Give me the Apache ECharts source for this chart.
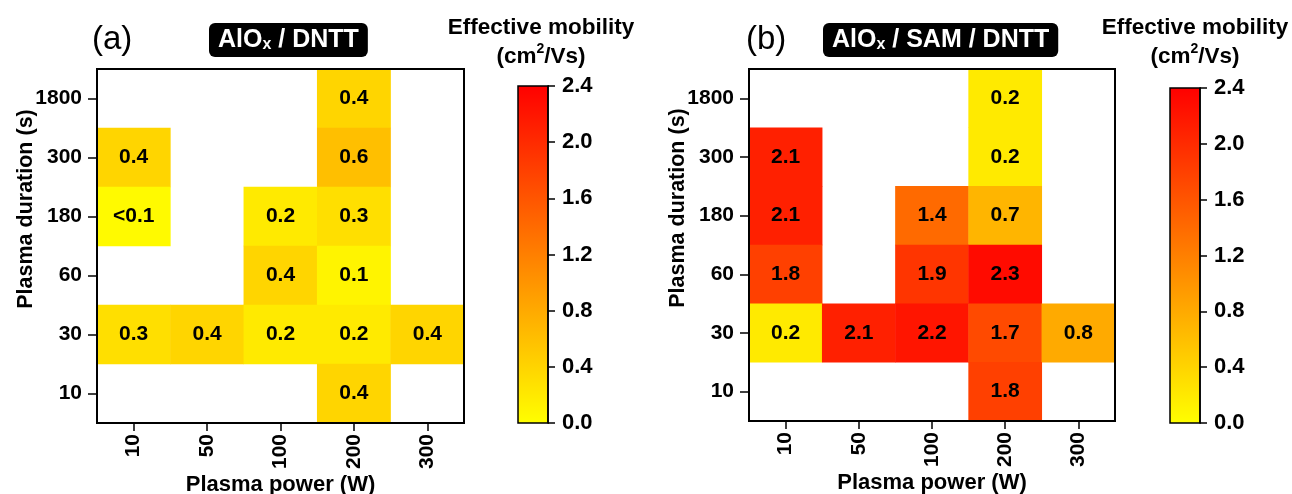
<!DOCTYPE html>
<html>
<head>
<meta charset="utf-8">
<script src="https://cdn.jsdelivr.net/npm/echarts@6/dist/echarts.min.js"></script>
<style>
  html, body { margin: 0; padding: 0; background: #fff; }
  #app { width: 1292px; height: 494px; }
</style>
</head>
<body>
<div id="app"></div>
<script>
// plasma power (x) and plasma duration (y) categories
const powers = ["10", "50", "100", "200", "300"];
const durations = ["10", "30", "60", "180", "300", "1800"];

// [power, duration, mobility]; 0.05 stands for "<0.1"
const cellsA = [
  ["200", "1800", 0.4],
  ["10", "300", 0.4], ["200", "300", 0.6],
  ["10", "180", 0.05], ["100", "180", 0.2], ["200", "180", 0.3],
  ["100", "60", 0.4], ["200", "60", 0.1],
  ["10", "30", 0.3], ["50", "30", 0.4], ["100", "30", 0.2], ["200", "30", 0.2], ["300", "30", 0.4],
  ["200", "10", 0.4]
];
const cellsB = [
  ["200", "1800", 0.2],
  ["10", "300", 2.1], ["200", "300", 0.2],
  ["10", "180", 2.1], ["100", "180", 1.4], ["200", "180", 0.7],
  ["10", "60", 1.8], ["100", "60", 1.9], ["200", "60", 2.3],
  ["10", "30", 0.2], ["50", "30", 2.1], ["100", "30", 2.2], ["200", "30", 1.7], ["300", "30", 0.8],
  ["200", "10", 1.8]
];

// colour bar range
const barMin = 0;
const barMax = 2.4;
const barStep = 0.4;

const FONT = "Liberation Sans, Arial, sans-serif";

function toCells(cells) {
  return cells.map(c => [powers.indexOf(c[0]), durations.indexOf(c[1]), c[2]]);
}

function heatAxes(i) {
  const x = {
    gridIndex: i,
    type: "category",
    data: powers,
    name: "Plasma power (W)",
    nameLocation: "middle",
    nameGap: 51,
    nameMoveOverlap: false,
    nameTextStyle: { fontFamily: FONT, fontWeight: "bold", fontSize: 22, color: "#000" },
    axisLine: { show: true, lineStyle: { color: "#000", width: 2 } },
    axisTick: { show: true, alignWithLabel: true, length: 8, lineStyle: { color: "#000", width: 1.5 } },
    axisLabel: { rotate: 90, margin: 11, fontFamily: FONT, fontWeight: "bold", fontSize: 21, color: "#000" },
    splitLine: { show: false },
    z: 6
  };
  const y = {
    gridIndex: i,
    type: "category",
    data: durations,
    name: "Plasma duration (s)",
    nameLocation: "middle",
    nameGap: 60,
    nameMoveOverlap: false,
    nameTextStyle: { fontFamily: FONT, fontWeight: "bold", fontSize: 21.5, color: "#000", padding: [0, 0, 0, 74] },
    axisLine: { show: true, lineStyle: { color: "#000", width: 2 } },
    axisTick: { show: true, alignWithLabel: true, length: 9, lineStyle: { color: "#000", width: 1.5 } },
    axisLabel: { margin: 15, fontFamily: FONT, fontWeight: "bold", fontSize: 21, color: "#000" },
    splitLine: { show: false },
    z: 6
  };
  return [x, y];
}

function barAxes(i) {
  const x = { gridIndex: i, type: "value", show: false };
  const y = {
    gridIndex: i,
    type: "value",
    position: "right",
    min: barMin,
    max: barMax,
    interval: barStep,
    axisLine: { show: true, onZero: false, lineStyle: { color: "#000", width: 1.5 } },
    axisTick: { show: true, length: 7, lineStyle: { color: "#000", width: 1.5 } },
    axisLabel: {
      margin: 14, fontFamily: FONT, fontWeight: "bold", fontSize: 22, color: "#000",
      formatter: v => v.toFixed(1)
    },
    splitLine: { show: false }
  };
  return [x, y];
}

const barFill = {
  type: "linear", x: 0, y: 0, x2: 0, y2: 1,
  colorStops: [{ offset: 0, color: "#ff0000" }, { offset: 1, color: "#ffff00" }]
};

const heatA = heatAxes(0), heatB = heatAxes(1), barA = barAxes(2), barB = barAxes(3);

function heatSeries(i, cells) {
  return {
    type: "heatmap",
    xAxisIndex: i,
    yAxisIndex: i,
    data: toCells(cells),
    label: {
      show: true,
      fontFamily: FONT,
      fontWeight: "bold",
      fontSize: 21,
      color: "#000",
      formatter: p => (p.value[2] < 0.1 ? "<0.1" : p.value[2].toFixed(1))
    },
    itemStyle: { borderWidth: 0 },
    emphasis: { disabled: true }
  };
}

function barTitle(cx) {
  return {
    type: "text",
    x: cx,
    y: 13,
    style: {
      text: "{t|Effective mobility}\n{t|(cm}{s|2}{t|/Vs)}",
      align: "center",
      verticalAlign: "top",
      fill: "#000",
      rich: {
        t: { fontFamily: FONT, fontWeight: "bold", fontSize: 22.5, lineHeight: 29, fill: "#000" },
        s: { fontFamily: FONT, fontWeight: "bold", fontSize: 14, lineHeight: 14, verticalAlign: "top", fill: "#000" }
      }
    }
  };
}

function badge(left, textMain, textRest) {
  return {
    type: "text",
    x: left,
    y: 23,
    style: {
      text: "{m|" + textMain + "}{s|x}{m|" + textRest + "}",
      align: "left",
      verticalAlign: "top",
      backgroundColor: "#000",
      borderRadius: 6,
      padding: [4, 9, 4, 9],
      rich: {
        m: { fontFamily: FONT, fontWeight: "bold", fontSize: 25, lineHeight: 26, fill: "#fff" },
        s: { fontFamily: FONT, fontWeight: "bold", fontSize: 16, lineHeight: 15, verticalAlign: "bottom", fill: "#fff" }
      }
    }
  };
}

function panelLetter(left, letter) {
  return {
    type: "text",
    x: left,
    y: 23,
    style: { text: letter, fontFamily: FONT, fontSize: 33, fill: "#000" }
  };
}

const gridBase = { show: true, borderColor: "#000", outerBoundsMode: "none", containLabel: false };

const chart = echarts.init(document.getElementById("app"), null, { renderer: "canvas" });
chart.setOption({
  backgroundColor: "#fff",
  animation: false,
  grid: [
    Object.assign({ left: 97, top: 69, width: 367, height: 354, borderWidth: 2, backgroundColor: "transparent", z: 5 }, gridBase),
    Object.assign({ left: 749, top: 69, width: 366, height: 352, borderWidth: 2, backgroundColor: "transparent", z: 5 }, gridBase),
    Object.assign({ left: 518, top: 86, width: 30, height: 337, borderWidth: 1.5, backgroundColor: barFill }, gridBase),
    Object.assign({ left: 1170, top: 88, width: 30, height: 335, borderWidth: 1.5, backgroundColor: barFill }, gridBase)
  ],
  xAxis: [heatA[0], heatB[0], barA[0], barB[0]],
  yAxis: [heatA[1], heatB[1], barA[1], barB[1]],
  visualMap: {
    show: false,
    type: "continuous",
    seriesIndex: [0, 1],
    dimension: 2,
    min: barMin,
    max: barMax,
    inRange: { color: ["#ffff00", "#ff0000"] }
  },
  series: [heatSeries(0, cellsA), heatSeries(1, cellsB)],
  graphic: [
    panelLetter(92, "(a)"),
    badge(209, "AlO", " / DNTT"),
    barTitle(541),
    panelLetter(746, "(b)"),
    badge(823, "AlO", " / SAM / DNTT"),
    barTitle(1195)
  ]
});
</script>
</body>
</html>
